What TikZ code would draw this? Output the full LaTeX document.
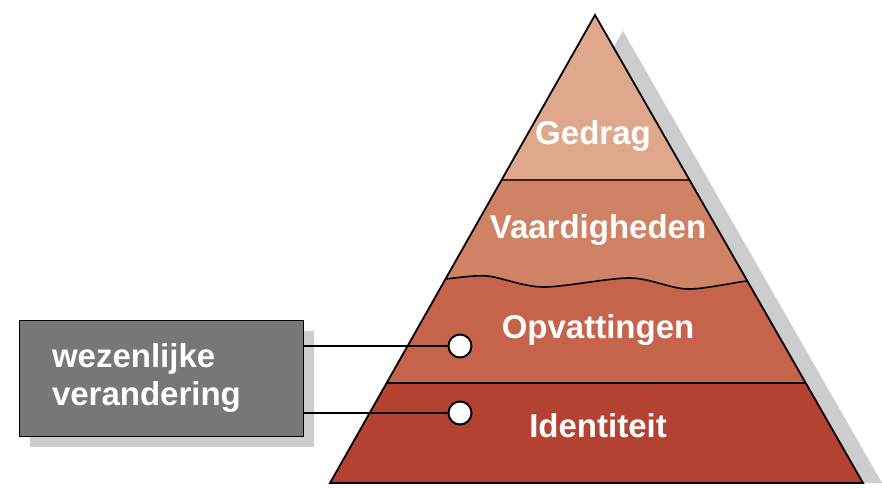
\documentclass[tikz,border=0pt]{standalone}
\usepackage{fontspec}
\setmainfont{Liberation Sans}
\usetikzlibrary{calc}
\definecolor{gedragc}{RGB}{223,168,140}
\definecolor{vaardc}{RGB}{208,130,100}
\definecolor{opvc}{RGB}{197,100,74}
\definecolor{identc}{RGB}{180,66,50}
\definecolor{boxc}{RGB}{119,119,119}
\definecolor{shadowc}{RGB}{205,205,205}
\colorlet{seamc}{black!60!identc}

\begin{document}
\begin{tikzpicture}[x=1pt, y=-1pt,
    lbl/.style={text=white, anchor=base, font=\fontsize{33}{38}\selectfont\bfseries},
    dot/.style={circle, draw, fill=white, line width=2pt, minimum size=23pt, inner sep=0pt}]
        \useasboundingbox (0,0) rectangle (882,489);

        % shadows
        \fill[shadowc] (623,31) -- (882,483) -- (358,483) -- cycle;
        \fill[shadowc] (30,331) rectangle (314,447);

        \coordinate (top) at (595,15);
        \coordinate (bl) at (330,483);
        \coordinate (br) at (863,483);

        \begin{scope}
            \clip (top) -- (br) -- (bl) -- cycle;
            \fill[gedragc] (300,0) rectangle (900,180);
            \fill[vaardc] (300,180) rectangle (900,383);
            \fill[opvc] plot[smooth] coordinates {(420,281) (445,279) (487,276) (543,287) (630,278) (687,289) (747,281) (780,279)}
                -- (900,383) -- (300,383) -- cycle;
            \fill[identc] (300,383) rectangle (900,489);
            \draw[line width=1.6pt] plot[smooth] coordinates {(420,281) (445,279) (487,276) (543,287) (630,278) (687,289) (747,281) (780,279)};
            \draw[seamc, line width=1.8pt] (300,180) -- (900,180);
            \draw[line width=1.6pt] (300,383) -- (900,383);
        \end{scope}
        \draw[line width=1.8pt] (top) -- (br) -- (bl) -- cycle;

        \node[lbl] (gedrag) at (593,145) {Gedrag};
        \node[lbl] (vaard) at (598,238) {Vaardigheden};
        \node[lbl] (opv) at (598,338) {Opvattingen};
        \node[lbl] (ident) at (598,437) {Identiteit};

        \node[draw, fill=boxc, line width=1pt, minimum width=284pt, minimum height=116pt,
            text width=218pt, inner xsep=33pt, align=left, text=white,
            font=\fontsize{33}{38}\selectfont\bfseries] (box) at (161,378) {wezenlijke\\verandering};

        \node[dot] (d1) at (460,346) {};
        \node[dot] (d2) at (460,413) {};
        \draw[line width=2.2pt] (box.east |- d1) -- (d1);
        \draw[line width=2.2pt] (box.east |- d2) -- (d2);
    \end{tikzpicture}
\end{document}
